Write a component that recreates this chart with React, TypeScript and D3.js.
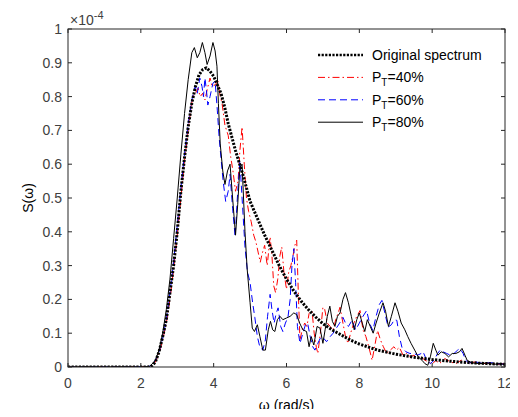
import * as d3 from "d3";

// spectrum values in units of 1e-4, as [omega, S] pairs
const ORIGINAL: Array<[number, number]> = [
  [0, 0], [2.2, 0], [2.3, 0.003], [2.4, 0.015], [2.5, 0.045], [2.6, 0.09], [2.7, 0.14],
  [2.8, 0.22], [2.9, 0.3], [3.0, 0.4], [3.1, 0.52], [3.2, 0.62], [3.3, 0.71], [3.4, 0.78],
  [3.5, 0.83], [3.6, 0.865], [3.7, 0.88], [3.8, 0.885], [3.9, 0.875], [4.0, 0.86],
  [4.1, 0.835], [4.2, 0.81], [4.3, 0.77], [4.4, 0.72], [4.5, 0.68], [4.6, 0.64],
  [4.7, 0.605], [4.8, 0.57], [4.9, 0.53], [5.0, 0.49], [5.2, 0.44], [5.4, 0.39],
  [5.6, 0.345], [5.8, 0.3], [6.0, 0.26], [6.2, 0.225], [6.4, 0.195], [6.6, 0.17],
  [6.8, 0.148], [7.0, 0.128], [7.25, 0.11], [7.5, 0.095], [7.75, 0.08], [8.0, 0.068],
  [8.5, 0.05], [9.0, 0.038], [9.5, 0.029], [10, 0.022], [10.5, 0.017], [11, 0.013],
  [11.5, 0.01], [12, 0.008],
];

const PT40: Array<[number, number]> = [
  [0, 0], [2.2, 0.001], [2.3, 0.004], [2.4, 0.015], [2.5, 0.04], [2.6, 0.08], [2.7, 0.13],
  [2.8, 0.2], [2.9, 0.29], [3.0, 0.39], [3.1, 0.5], [3.2, 0.61], [3.3, 0.7], [3.38, 0.77],
  [3.43, 0.8], [3.5, 0.81], [3.57, 0.825], [3.63, 0.8], [3.7, 0.81], [3.76, 0.79],
  [3.82, 0.82], [3.9, 0.855], [3.96, 0.83], [4.04, 0.835], [4.12, 0.845], [4.18, 0.8],
  [4.23, 0.78], [4.31, 0.715], [4.4, 0.685], [4.47, 0.62], [4.53, 0.58], [4.6, 0.52],
  [4.67, 0.55], [4.72, 0.64], [4.78, 0.71], [4.84, 0.6], [4.9, 0.5], [4.96, 0.46],
  [5.03, 0.43], [5.1, 0.39], [5.16, 0.37], [5.22, 0.34], [5.28, 0.31], [5.33, 0.335],
  [5.4, 0.36], [5.47, 0.3], [5.55, 0.385], [5.6, 0.33], [5.65, 0.24], [5.7, 0.22],
  [5.76, 0.26], [5.82, 0.33], [5.87, 0.355], [5.93, 0.28], [6.0, 0.23], [6.06, 0.28],
  [6.12, 0.3], [6.18, 0.33], [6.23, 0.36], [6.28, 0.375], [6.33, 0.2], [6.37, 0.08],
  [6.43, 0.11], [6.5, 0.13], [6.56, 0.12], [6.62, 0.158], [6.7, 0.167], [6.76, 0.1],
  [6.82, 0.058], [6.86, 0.04], [6.93, 0.1], [7.0, 0.177], [7.05, 0.17], [7.12, 0.13],
  [7.2, 0.12], [7.28, 0.108], [7.35, 0.14], [7.42, 0.16], [7.47, 0.177], [7.55, 0.13],
  [7.62, 0.09], [7.69, 0.07], [7.76, 0.1], [7.85, 0.13], [7.93, 0.15], [8.02, 0.167],
  [8.1, 0.11], [8.18, 0.09], [8.26, 0.06], [8.35, 0.02], [8.42, 0.06], [8.5, 0.108],
  [8.58, 0.08], [8.66, 0.06], [8.75, 0.04], [8.85, 0.05], [8.95, 0.06], [9.02, 0.05],
  [9.1, 0.058], [9.2, 0.035], [9.3, 0.04], [9.4, 0.03], [9.5, 0.035], [9.6, 0.025],
  [9.7, 0.03], [9.8, 0.02], [9.9, 0.015], [10.0, 0.008], [10.1, 0.02], [10.2, 0.01],
  [10.35, 0.025], [10.5, 0.015], [10.65, 0.01], [10.8, 0.02], [11.0, 0.012], [11.2, 0.015],
  [11.4, 0.01], [11.6, 0.012], [11.8, 0.008], [12, 0.01],
];

const PT60: Array<[number, number]> = [
  [0, 0], [2.2, 0.001], [2.3, 0.005], [2.4, 0.02], [2.5, 0.045], [2.6, 0.085], [2.7, 0.14],
  [2.8, 0.22], [2.9, 0.31], [3.0, 0.42], [3.1, 0.53], [3.2, 0.63], [3.3, 0.72], [3.4, 0.79],
  [3.49, 0.83], [3.55, 0.81], [3.62, 0.855], [3.68, 0.83], [3.72, 0.8], [3.76, 0.855],
  [3.8, 0.82], [3.84, 0.775], [3.9, 0.8], [3.98, 0.84], [4.04, 0.845], [4.1, 0.76],
  [4.15, 0.68], [4.2, 0.62], [4.26, 0.55], [4.33, 0.49], [4.4, 0.52], [4.45, 0.57],
  [4.52, 0.47], [4.59, 0.385], [4.65, 0.5], [4.72, 0.61], [4.78, 0.5], [4.86, 0.355],
  [4.93, 0.28], [5.0, 0.25], [5.07, 0.19], [5.13, 0.147], [5.2, 0.09], [5.27, 0.058],
  [5.35, 0.05], [5.42, 0.08], [5.48, 0.15], [5.55, 0.215], [5.6, 0.17], [5.66, 0.13],
  [5.72, 0.16], [5.77, 0.175], [5.84, 0.12], [5.9, 0.105], [5.97, 0.13], [6.04, 0.147],
  [6.1, 0.2], [6.15, 0.3], [6.2, 0.35], [6.25, 0.25], [6.3, 0.12], [6.37, 0.07],
  [6.45, 0.1], [6.52, 0.125], [6.58, 0.13], [6.65, 0.09], [6.72, 0.06], [6.78, 0.05],
  [6.86, 0.07], [6.95, 0.09], [7.02, 0.085], [7.1, 0.075], [7.2, 0.09], [7.28, 0.1],
  [7.38, 0.117], [7.46, 0.13], [7.55, 0.147], [7.62, 0.13], [7.7, 0.12], [7.8, 0.138],
  [7.9, 0.11], [8.0, 0.13], [8.1, 0.15], [8.2, 0.167], [8.28, 0.13], [8.37, 0.108],
  [8.46, 0.15], [8.55, 0.185], [8.62, 0.197], [8.7, 0.16], [8.79, 0.118], [8.88, 0.125],
  [8.96, 0.14], [9.03, 0.138], [9.1, 0.09], [9.17, 0.058], [9.28, 0.045], [9.39, 0.04],
  [9.5, 0.04], [9.6, 0.035], [9.7, 0.04], [9.75, 0.045], [9.85, 0.02], [9.95, 0.01],
  [10.05, 0.02], [10.15, 0.04], [10.22, 0.05], [10.3, 0.045], [10.4, 0.04], [10.5, 0.035],
  [10.6, 0.04], [10.7, 0.05], [10.76, 0.055], [10.85, 0.04], [10.92, 0.02], [11.0, 0.012],
  [11.2, 0.015], [11.4, 0.01], [11.6, 0.013], [11.8, 0.01], [12, 0.008],
];

const PT80: Array<[number, number]> = [
  [0, 0], [0.5, 0.001], [1, 0], [1.5, 0.001], [2, 0], [2.25, 0.002], [2.4, 0.02],
  [2.5, 0.05], [2.6, 0.1], [2.7, 0.17], [2.8, 0.26], [2.9, 0.38], [3.0, 0.5], [3.1, 0.63],
  [3.2, 0.75], [3.3, 0.85], [3.4, 0.93], [3.47, 0.945], [3.55, 0.915], [3.62, 0.93],
  [3.69, 0.96], [3.76, 0.93], [3.82, 0.895], [3.9, 0.92], [3.98, 0.96], [4.04, 0.935],
  [4.09, 0.89], [4.13, 0.78], [4.18, 0.66], [4.25, 0.58], [4.31, 0.54], [4.38, 0.58],
  [4.45, 0.6], [4.52, 0.5], [4.6, 0.39], [4.66, 0.48], [4.72, 0.59], [4.78, 0.6],
  [4.86, 0.4], [4.92, 0.29], [5.0, 0.19], [5.06, 0.115], [5.12, 0.105], [5.2, 0.125],
  [5.27, 0.09], [5.35, 0.05], [5.42, 0.05], [5.5, 0.11], [5.56, 0.135], [5.62, 0.11],
  [5.68, 0.105], [5.75, 0.14], [5.82, 0.15], [5.9, 0.14], [6.0, 0.145], [6.1, 0.15],
  [6.2, 0.16], [6.28, 0.155], [6.36, 0.13], [6.45, 0.11], [6.55, 0.105], [6.62, 0.06],
  [6.68, 0.09], [6.75, 0.065], [6.84, 0.12], [6.92, 0.115], [7.0, 0.07], [7.06, 0.11],
  [7.12, 0.15], [7.19, 0.18], [7.26, 0.135], [7.33, 0.12], [7.4, 0.15], [7.47, 0.16],
  [7.55, 0.2], [7.62, 0.22], [7.7, 0.19], [7.78, 0.15], [7.86, 0.11], [7.93, 0.14],
  [8.0, 0.16], [8.08, 0.13], [8.15, 0.105], [8.22, 0.14], [8.3, 0.12], [8.38, 0.1],
  [8.46, 0.13], [8.55, 0.16], [8.65, 0.19], [8.72, 0.165], [8.8, 0.12], [8.88, 0.15],
  [8.98, 0.19], [9.06, 0.165], [9.15, 0.13], [9.25, 0.11], [9.33, 0.09], [9.42, 0.07],
  [9.52, 0.05], [9.62, 0.03], [9.72, 0.02], [9.8, 0.01], [9.88, 0.005], [9.95, 0.03],
  [10.03, 0.07], [10.1, 0.05], [10.16, 0.035], [10.25, 0.045], [10.35, 0.04], [10.45, 0.03],
  [10.55, 0.04], [10.65, 0.04], [10.75, 0.045], [10.82, 0.055], [10.9, 0.035], [10.96, 0.02],
  [11.1, 0.012], [11.3, 0.01], [11.5, 0.012], [11.7, 0.008], [11.9, 0.01], [12, 0.006],
];

const X_TICKS = [0, 2, 4, 6, 8, 10, 12];
const Y_TICKS = [0, 0.1, 0.2, 0.3, 0.4, 0.5, 0.6, 0.7, 0.8, 0.9, 1];
const LEGEND = ["Original spectrum", "40%", "60%", "80%"];

const W = 518;
const H = 417;
const M = { left: 68, top: 29, right: 13, bottom: 50 };
const FONT = "'Liberation Sans', Arial, sans-serif";
const AXIS = "#262626";
const LABEL = "#404040";

export default function App() {
  const iw = W - M.left - M.right;
  const ih = H - M.top - M.bottom;
  const x = d3.scaleLinear().domain([0, 12]).range([0, iw]);
  const y = d3.scaleLinear().domain([0, 1]).range([ih, 0]);
  const line = d3
    .line<[number, number]>()
    .x((d) => x(d[0]))
    .y((d) => y(d[1]));

  const series = [
    { data: PT40, stroke: "#ff0000", width: 1, dash: "7,3,1.5,3" },
    { data: PT60, stroke: "#0000ff", width: 1, dash: "7,4" },
    { data: PT80, stroke: "#000000", width: 1, dash: "none" },
    { data: ORIGINAL, stroke: "#000000", width: 3, dash: "2.2,1.4" },
  ];
  const legendStyle = [series[3], series[0], series[1], series[2]];

  return (
    <svg width={W} height={H} style={{ display: "block", margin: "-8px", background: "#fff" }}>
      <g transform={`translate(${M.left},${M.top})`} fontFamily={FONT}>
        <defs>
          <clipPath id="plotclip">
            <rect x={0} y={-2} width={iw} height={ih + 2} />
          </clipPath>
        </defs>
        <rect x={0} y={0} width={iw} height={ih} fill="#fff" />
        <g clipPath="url(#plotclip)">
          {series.map((s, i) => (
            <path
              key={i}
              d={line(s.data) ?? ""}
              fill="none"
              stroke={s.stroke}
              strokeWidth={s.width}
              strokeDasharray={s.dash}
              strokeLinejoin="round"
            />
          ))}
        </g>
        <rect x={0} y={0} width={iw} height={ih} fill="none" stroke={AXIS} strokeWidth={1} />
        {X_TICKS.map((t) => (
          <g key={`x${t}`}>
            <line x1={x(t)} x2={x(t)} y1={ih} y2={ih - 4} stroke={AXIS} />
            <line x1={x(t)} x2={x(t)} y1={0} y2={4} stroke={AXIS} />
            <text x={x(t)} y={ih + 21} textAnchor="middle" fontSize={14} fill={LABEL}>
              {t}
            </text>
          </g>
        ))}
        {Y_TICKS.map((t) => (
          <g key={`y${t}`}>
            <line x1={0} x2={4} y1={y(t)} y2={y(t)} stroke={AXIS} />
            <line x1={iw} x2={iw - 4} y1={y(t)} y2={y(t)} stroke={AXIS} />
            <text x={-6} y={y(t) + 5} textAnchor="end" fontSize={14} fill={LABEL}>
              {t === 0 || t === 1 ? String(t) : t.toFixed(1)}
            </text>
          </g>
        ))}
        <text x={2} y={-4} fontSize={14} fill={LABEL}>
          ×10<tspan dy={-6} fontSize={11}>-4</tspan>
        </text>
        <text x={iw / 2} y={ih + 43} textAnchor="middle" fontSize={14} fill="#000">
          ω (rad/s)
        </text>
        <text
          transform={`translate(-35,${ih / 2}) rotate(-90)`}
          textAnchor="middle"
          fontSize={14}
          fill="#000"
        >
          S(ω)
        </text>
        {legendStyle.map((s, i) => {
          const ly = 26 + i * 22.4;
          const lx = 250;
          return (
            <g key={`lg${i}`}>
              <line
                x1={lx}
                x2={lx + 45}
                y1={ly}
                y2={ly}
                stroke={s.stroke}
                strokeWidth={s.width === 3 ? 2.5 : 1}
                strokeDasharray={s.dash}
              />
              {i === 0 ? (
                <text x={lx + 54} y={ly + 5} fontSize={14} fill="#000">
                  {LEGEND[i]}
                </text>
              ) : (
                <text x={lx + 54} y={ly + 5} fontSize={14} fill="#000">
                  P<tspan dy={4} fontSize={10}>T</tspan>
                  <tspan dy={-4}>={LEGEND[i]}</tspan>
                </text>
              )}
            </g>
          );
        })}
      </g>
    </svg>
  );
}
